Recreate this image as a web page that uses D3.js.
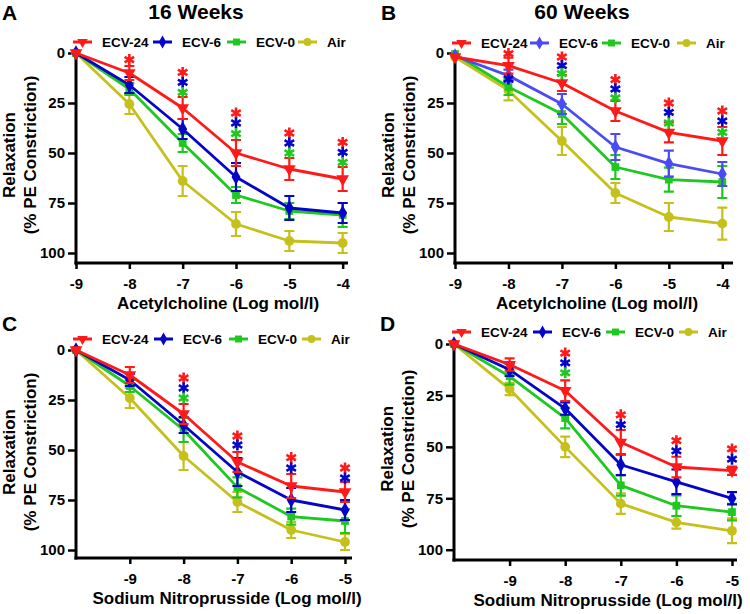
<!DOCTYPE html>
<html lang="en">
<head>
<meta charset="UTF-8">
<title>Relaxation curves</title>
<style>
  body { margin: 0; background: #fff; }
  svg text { font-family: "Liberation Sans", Arial, sans-serif; font-weight: bold; }
</style>
</head>
<body>
<script src="https://cdn.jsdelivr.net/npm/d3@7"></script>
<script>
// ---- data ----
const groups = ["ECV-24", "ECV-6", "ECV-0", "Air"];
const achDoses = [-9, -8, -7, -6, -5, -4];
const achTicks = [-9, -8, -7, -6, -5, -4];
const snpDoses = [-10, -9, -8, -7, -6, -5];
const snpTicks = [-9, -8, -7, -6, -5];
const yTicks = [0, 25, 50, 75, 100];

// means, one row per group (ECV-24, ECV-6, ECV-0, Air)
const ach16Mean = [
  [0, 10, 27.5, 50, 58, 63],
  [0, 16, 38, 62, 77.5, 80],
  [0, 18, 45, 71, 79, 81],
  [0, 25.5, 64, 85.5, 94, 95]
];
const ach16Sem = [
  [0, 3.5, 5.5, 6.5, 5.5, 6],
  [0, 4, 5, 7, 6, 5],
  [0, 3, 4.5, 4, 4, 6],
  [0, 5, 7.5, 6, 5, 5]
];
const ach60Mean = [
  [2, 6.3, 15, 29, 39.7, 44],
  [1.5, 11.3, 25.5, 47, 55.3, 60.5],
  [0.5, 17, 30.5, 57, 63.3, 64.5],
  [2, 18.7, 44, 70, 82, 85.3]
];
const ach60Sem = [
  [0, 4, 4, 5, 5, 7],
  [0, 3, 5, 6.5, 6.5, 6],
  [0, 4, 5, 6, 6, 8],
  [0, 5, 7, 5, 7, 8]
];
const snp16Mean = [
  [0, 12.5, 32, 56, 68, 71],
  [0, 15, 37.5, 61, 75, 80],
  [0, 18, 40, 68.7, 83.3, 85.5],
  [0, 24, 53, 76, 90, 96]
];
const snp16Sem = [
  [0, 4, 5, 5, 6, 5],
  [0, 3, 4, 7, 6, 5],
  [0, 3, 6, 5, 4, 6],
  [0, 5, 7, 5, 4, 4]
];
const snp60Mean = [
  [0, 10, 22.7, 47.8, 59.8, 61.6],
  [0, 12.5, 31.4, 58.7, 67, 75],
  [0, 15.7, 36, 68.7, 78.6, 81.7],
  [0, 21.9, 50, 77.6, 86.7, 90.8]
];
const snp60Sem = [
  [0, 3, 5, 6, 5, 2],
  [0, 3, 3, 5, 6, 3],
  [0, 4, 5, 5, 5, 4],
  [0, 3, 5, 5, 3, 6]
];
// significance stars: [dose, group index, level on the y scale]
const ach16Stars = [[-8,0,3.3],[-7,0,9.7],[-7,1,14.7],[-7,2,19.7],[-6,0,30],[-6,1,35],[-6,2,40.3],
  [-5,0,40],[-5,1,45],[-5,2,50],[-4,0,44.7],[-4,1,49.7],[-4,2,54.7]];
const ach60Stars = [[-8,0,0.3],[-8,1,13],[-7,0,2],[-7,1,6.3],[-7,2,10.3],[-6,0,13.3],[-6,1,18],[-6,2,22.5],
  [-5,0,25],[-5,1,29.7],[-5,2,35],[-4,0,29],[-4,1,34],[-4,2,39.7]];
const snp16Stars = [[-8,0,14],[-8,1,19],[-8,2,24],[-7,0,43],[-7,1,47.5],[-6,0,53.8],[-6,1,59],[-5,0,59],[-5,1,64]];
const snp60Stars = [[-8,0,4.4],[-8,1,9.2],[-8,2,14],[-7,0,34.4],[-7,1,39.2],[-6,0,47],[-6,1,52],[-5,0,51],[-5,1,56]];

const colors = ["#ff1a1a", "#0505c8", "#1ec81e", "#c6c01c"];
const symbols = [d3.symbolTriangle, d3.symbolDiamond, d3.symbolSquare, d3.symbolCircle];
const symSize = [70, 70, 60, 75];

const panels = [
  { letter: "A", title: "16 Weeks", doses: achDoses, ticks: achTicks, mean: ach16Mean, sem: ach16Sem, stars: ach16Stars,
    xlab: "Acetylcholine (Log mol/l)", ox: 76, xr: [76, 348], xd: [-9, -3.9], yr: [53, 263], yd: [0, 105],
    titleX: 196, xlabX: 218, legY: 42, lineBlue: "#0505c8", legOff: [-3, 77, 151, 222] },
  { letter: "B", title: "60 Weeks", doses: achDoses, ticks: achTicks, mean: ach60Mean, sem: ach60Sem, stars: ach60Stars,
    xlab: "Acetylcholine (Log mol/l)", ox: 455, xr: [455, 733], xd: [-9, -3.8], yr: [53, 263], yd: [0, 105],
    titleX: 582, xlabX: 597, legY: 43, lineBlue: "#4b4bf5", legOff: [-3, 75, 147, 222] },
  { letter: "C", title: null, doses: snpDoses, ticks: snpTicks, mean: snp16Mean, sem: snp16Sem, stars: snp16Stars,
    xlab: "Sodium Nitroprusside (Log mol/l)", ox: 76, xr: [76, 352], xd: [-10, -4.87], yr: [350, 558], yd: [0, 104],
    titleX: 0, xlabX: 227, legY: 339, lineBlue: "#0505c8", legOff: [-3, 78, 153, 226] },
  { letter: "D", title: null, doses: snpDoses, ticks: snpTicks, mean: snp60Mean, sem: snp60Sem, stars: snp60Stars,
    xlab: "Sodium Nitroprusside (Log mol/l)", ox: 454, xr: [454, 737], xd: [-10, -4.91], yr: [344, 560], yd: [0, 105],
    titleX: 0, xlabX: 608, legY: 332, lineBlue: "#0505c8", legOff: [-2, 79, 152, 225] }
];

const svg = d3.select("body").append("svg")
  .attr("width", 750).attr("height", 614);

panels.forEach((p, pi) => {
  const g = svg.append("g");
  const x = d3.scaleLinear().domain(p.xd).range(p.xr);
  const y = d3.scaleLinear().domain(p.yd).range(p.yr);
  const col = colors.slice();
  col[1] = p.lineBlue;

  // panel letter + title
  const top = pi < 2 ? 0 : 311;
  g.append("text").attr("x", p.ox - 74).attr("y", top + 20).attr("font-size", 21).text(p.letter);
  if (p.title) {
    g.append("text").attr("x", p.titleX).attr("y", 19).attr("text-anchor", "middle")
      .attr("font-size", 21).text(p.title);
  }

  // axes
  const xAxis = d3.axisBottom(x).tickValues(p.ticks).tickFormat(d => String(d))
    .tickSize(6).tickSizeOuter(0).tickPadding(9);
  const yAxis = d3.axisLeft(y).tickValues(yTicks).tickSize(8).tickSizeOuter(0).tickPadding(3);

  const gx = g.append("g").attr("transform", `translate(0,${p.yr[1]})`).call(xAxis);
  const gy = g.append("g").attr("transform", `translate(${p.ox},0)`).call(yAxis);
  [gx, gy].forEach(a => {
    a.select(".domain").attr("stroke", "#000").attr("stroke-width", 3);
    a.selectAll(".tick line").attr("stroke", "#000").attr("stroke-width", 2.5);
    a.selectAll(".tick text").attr("fill", "#000").attr("font-size", 15)
      .attr("font-family", "Liberation Sans, Arial, sans-serif").attr("font-weight", "bold");
  });
  // y axis runs down to meet the x axis
  gy.select(".domain").attr("d", `M0,${y(0)}V${p.yr[1] + 1.5}`);
  gx.select(".domain").attr("d", `M${p.ox - 1.5},0H${p.xr[1]}`);

  // axis titles
  g.append("text").attr("x", p.xlabX).attr("y", p.yr[1] + 46).attr("text-anchor", "middle")
    .attr("font-size", 17).text(p.xlab);
  const yc = y(50) + 2;
  g.append("text").attr("transform", `translate(${p.ox - 67},${yc}) rotate(-90)`)
    .attr("text-anchor", "middle").attr("dy", "0.35em").attr("font-size", 17).text("Relaxation");
  g.append("text").attr("transform", `translate(${p.ox - 46},${yc}) rotate(-90)`)
    .attr("text-anchor", "middle").attr("dy", "0.35em").attr("font-size", 17).text("(% PE Constriction)");

  const line = d3.line().x(d => x(d[0])).y(d => y(d[1]));

  // draw Air first so ECV-24 ends on top
  for (let k = groups.length - 1; k >= 0; k--) {
    const pts = p.doses.map((d, i) => [d, p.mean[k][i], p.sem[k][i]]);
    const sg = g.append("g");
    sg.append("path").datum(pts).attr("d", line).attr("fill", "none")
      .attr("stroke", col[k]).attr("stroke-width", 2.8).attr("stroke-linejoin", "round");
    const eb = sg.selectAll(".eb").data(pts.filter(d => d[2] > 0)).join("g");
    eb.append("path")
      .attr("d", d => {
        const cx = x(d[0]), y1 = y(d[1] - d[2]), y2 = y(d[1] + d[2]);
        return `M${cx},${y1}V${y2}M${cx - 5},${y1}H${cx + 5}M${cx - 5},${y2}H${cx + 5}`;
      })
      .attr("stroke", col[k]).attr("stroke-width", 2.2).attr("fill", "none");
    sg.selectAll(".pt").data(pts).join("path")
      .attr("transform", d => `translate(${x(d[0])},${y(d[1])})` + (k === 0 ? " rotate(180)" : ""))
      .attr("d", d3.symbol(symbols[k], symSize[k]))
      .attr("fill", col[k]);
  }

  // significance stars
  g.selectAll(".star").data(p.stars).join("path")
    .attr("transform", d => `translate(${x(d[0])},${y(d[2])})`)
    .attr("d", d3.symbol(d3.symbolAsterisk, 85))
    .attr("fill", "none")
    .attr("stroke", d => colors[d[1]])
    .attr("stroke-width", 2.6);

  // legend
  groups.forEach((name, k) => {
    const lx = p.ox + p.legOff[k];
    const lg = g.append("g");
    lg.append("line").attr("x1", lx).attr("x2", lx + 19).attr("y1", p.legY).attr("y2", p.legY)
      .attr("stroke", col[k]).attr("stroke-width", 3);
    lg.append("path").attr("transform", `translate(${lx + 9.5},${p.legY})` + (k === 0 ? " rotate(180)" : ""))
      .attr("d", d3.symbol(symbols[k], 48)).attr("fill", col[k]);
    lg.append("text").attr("x", lx + 29).attr("y", p.legY + 5).attr("font-size", 13.5).text(name);
  });
});
</script>
</body>
</html>
